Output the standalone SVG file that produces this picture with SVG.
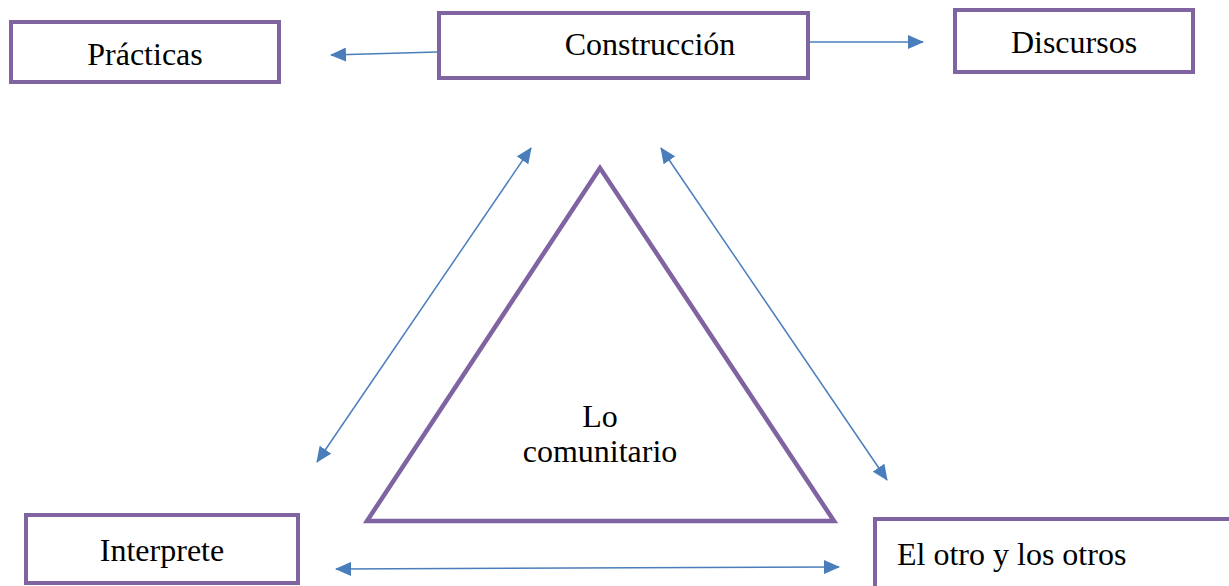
<svg xmlns="http://www.w3.org/2000/svg" width="1229" height="586" viewBox="0 0 1229 586">
<style>
.box{fill:#fff;stroke:#8064A2;stroke-width:4}
.tri{fill:none;stroke:#8064A2;stroke-width:4.5;stroke-linejoin:miter}
.lbl{font-family:"Liberation Serif","Times New Roman",serif;font-size:32px;fill:#000}
.con{stroke:#4A7EBB;stroke-width:1.5;fill:none}
</style>
<defs>
<marker id="ah" markerUnits="userSpaceOnUse" markerWidth="16" markerHeight="14" refX="15" refY="7" orient="auto-start-reverse" viewBox="0 0 16 14">
<path d="M0,0 L16,7 L0,14 z" fill="#4A7EBB"/>
</marker>
</defs>
<rect width="1229" height="586" fill="#fff"/>
<g id="practicas">
<rect class="box" x="11" y="22" width="268" height="60"/>
<text class="lbl" x="145" y="65" text-anchor="middle">Prácticas</text>
</g>
<g id="construccion">
<rect class="box" x="439" y="13" width="369" height="65"/>
<text class="lbl" x="650" y="55" text-anchor="middle">Construcción</text>
</g>
<g id="discursos">
<rect class="box" x="955" y="10" width="238" height="62"/>
<text class="lbl" x="1074" y="53" text-anchor="middle">Discursos</text>
</g>
<g id="interprete">
<rect class="box" x="26" y="515" width="272" height="68"/>
<text class="lbl" x="162" y="561" text-anchor="middle">Interprete</text>
</g>
<g id="otros">
<rect class="box" x="875" y="519" width="380" height="90"/>
<text class="lbl" x="897" y="565">El otro y los otros</text>
</g>
<g id="comunitario">
<polygon class="tri" points="600,168 367,521 834,521"/>
<text class="lbl" x="600" y="427" text-anchor="middle">Lo</text>
<text class="lbl" x="600" y="462" text-anchor="middle">comunitario</text>
</g>
<g id="connectors">
<line class="con" x1="437" y1="52" x2="331" y2="55" marker-end="url(#ah)"/>
<line class="con" x1="810" y1="42" x2="923" y2="42" marker-end="url(#ah)"/>
<line class="con" x1="531" y1="148" x2="317" y2="462" marker-start="url(#ah)" marker-end="url(#ah)"/>
<line class="con" x1="661" y1="148" x2="887" y2="480" marker-start="url(#ah)" marker-end="url(#ah)"/>
<line class="con" x1="336" y1="569" x2="839" y2="567" marker-start="url(#ah)" marker-end="url(#ah)"/>
</g>
</svg>
